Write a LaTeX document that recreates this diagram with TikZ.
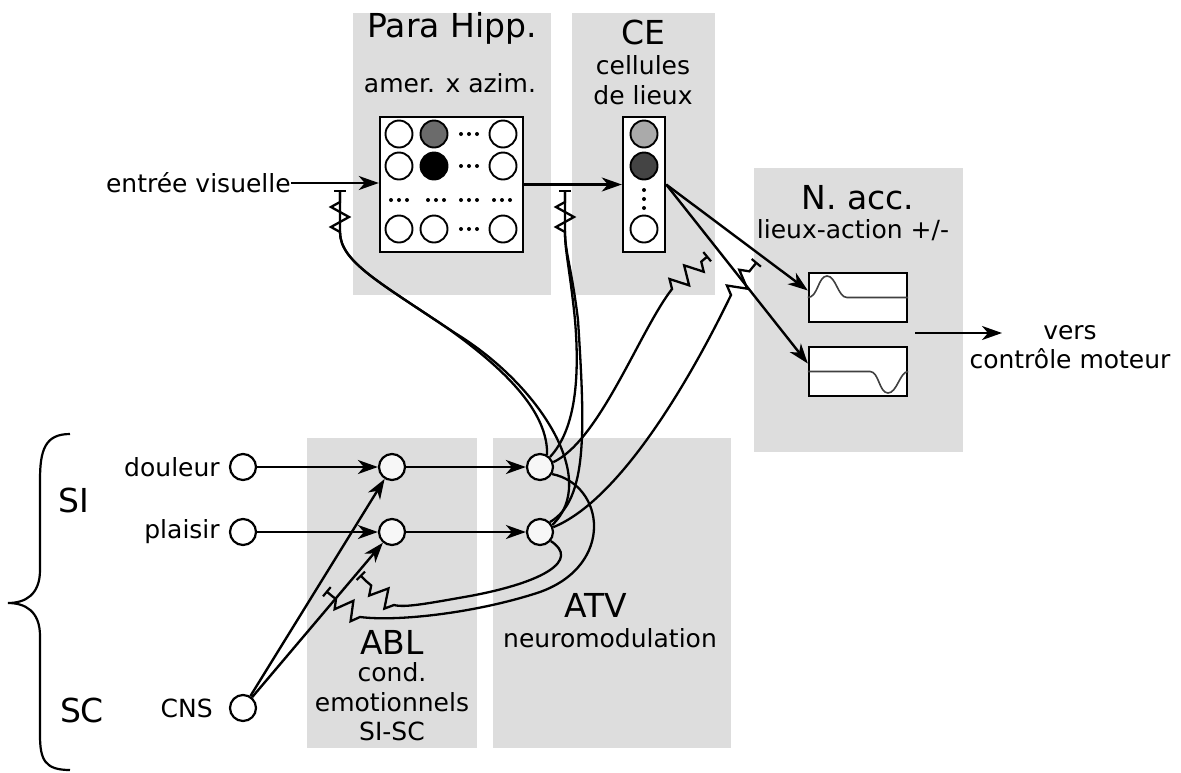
\documentclass[tikz,border=0pt]{standalone}
\usepackage{fontspec}
\setmainfont{DejaVu Sans}
\usepackage{tikz}
\usetikzlibrary{arrows.meta,positioning,decorations.pathmorphing}

\definecolor{zonegray}{HTML}{DDDDDD}
\definecolor{midgray}{HTML}{6B6B6B}
\definecolor{lightcell}{HTML}{AAAAAA}
\definecolor{darkcell}{HTML}{444444}

\begin{document}
\begin{tikzpicture}[x=1pt, y=-1pt,
    zone/.style={fill=zonegray, draw=none},
    neuron/.style={circle, draw, line width=2.2pt, minimum size=26pt, inner sep=0pt, fill=black!3},
    cell/.style={circle, draw, line width=1.9pt, minimum size=27pt, inner sep=0pt, fill=white},
    panel/.style={draw, line width=2.4pt, fill=white, inner sep=0pt},
    big/.style={font=\fontsize{33}{36}\selectfont, inner sep=0pt},
    small/.style={font=\fontsize{25}{29.5}\selectfont, inner sep=0pt, align=center},
    conn/.style={line width=2.4pt, -{Stealth[length=20pt,width=14pt,inset=6pt]}},
    inhib/.style={line width=2.3pt, -{Bar[width=12pt,line width=2.2pt]}},
    zz/.style={decoration={zigzag, segment length=20pt, amplitude=9pt}}]
    \useasboundingbox (0,0) rectangle (1181,772);

    % grey zones
    \fill[zone] (353,13) rectangle (551,295);
    \fill[zone] (572,13) rectangle (715,295);
    \fill[zone] (754,168) rectangle (963,452);
    \fill[zone] (307,438) rectangle (477,748);
    \fill[zone] (493,438) rectangle (731,748);

    % titles
    \node[big] (titlePH) at (452,28) {Para Hipp.};
    \node[small] (subPH) at (450,83) {amer. x azim.};
    \node[big] (titleCE) at (643,32) {CE};
    \node[small] (subCE) at (643,80) {cellules\\de lieux};
    \node[big] (titleNacc) at (858,198) {N. acc.};
    \node[small] (subNacc) at (853,230) {lieux-action +/-};
    \node[big] (titleABL) at (392,642) {ABL};
    \node[small] (subABL) at (392,702) {cond.\\emotionnels\\SI-SC};
    \node[big] (titleATV) at (596,605) {ATV};
    \node[small] (subATV) at (610,638) {neuromodulation};

    % Para Hipp. matrix
    \node[panel, minimum width=143pt, minimum height=135pt] (phbox) at (451.5,184.5) {};
    \node[cell] (m11) at (399,134) {};
    \node[cell, fill=midgray] (m12) at (434,134) {};
    \node[cell] (m14) at (503,134) {};
    \node[cell] (m21) at (399,166) {};
    \node[cell, fill=black] (m22) at (434,166) {};
    \node[cell] (m24) at (503,166) {};
    \node[cell] (m41) at (399,229) {};
    \node[cell] (m42) at (434,229) {};
    \node[cell] (m44) at (503,229) {};
    \foreach \y in {134,166,229}
        \foreach \dx in {-8,0,8}
            \fill (469+\dx,\y) circle (2pt);
    \foreach \x in {399,436,469,502}
        \foreach \dx in {-8,0,8}
            \fill (\x+\dx,200) circle (2pt);

    % CE column
    \node[panel, minimum width=42pt, minimum height=135pt] (cebox) at (644,184.5) {};
    \node[cell, fill=lightcell] (c1) at (644,134) {};
    \node[cell, fill=darkcell] (c2) at (644,166) {};
    \node[cell] (c4) at (644,229) {};
    \foreach \y in {190,199,208}
        \fill (644,\y) circle (2pt);

    % N. acc. panels
    \node[panel, minimum width=98pt, minimum height=49pt] (actPlus) at (858,297.5) {};
    \node[panel, minimum width=98pt, minimum height=49pt] (actMinus) at (858,371.5) {};
    \draw[line width=1.6pt, black!75] (actPlus.west) .. controls (818,297.5) and (818,276) .. (827,276)
        .. controls (836,276) and (838,297.5) .. (847,297.5) -- (actPlus.east);
    \draw[line width=1.6pt, black!75] (actMinus.west) -- (870,371.5) .. controls (879,371.5) and (879,393) .. (888,393)
        .. controls (897,393) and (900,371.5) .. (actMinus.east);

    % input and output
    \node[small, anchor=east] (entree) at (291,183) {entrée visuelle};
    \node[small] (motor) at (1070,347) {vers\\contrôle moteur};
    \coordinate (naccOut) at (915,333);
    \coordinate (motorIn) at (1002,333);

    % bottom neurons
    \node[neuron, fill=white] (srcD) at (243,467) {};
    \node[neuron, fill=white] (srcP) at (243,532) {};
    \node[neuron, fill=white] (srcC) at (243,708) {};
    \node[neuron] (ablD) at (392,467) {};
    \node[neuron] (ablP) at (392,532) {};
    \node[neuron] (atvD) at (540,467) {};
    \node[neuron] (atvP) at (540,532) {};
    \node[small, left=9pt of srcD] (lblD) {douleur};
    \node[small, left=9pt of srcP] (lblP) {plaisir};
    \node[small, left=16pt of srcC] (lblC) {CNS};
    \node[big] (lblSI) at (74,500) {SI};
    \node[big] (lblSC) at (82,710) {SC};

    % brace
    \draw[line width=2.2pt] (70,434) .. controls (45,434) and (40,450) .. (40,480) -- (40,570)
        .. controls (40,595) and (25,603) .. (8,603) .. controls (25,603) and (40,611) .. (40,636)
        -- (40,735) .. controls (40,760) and (45,770) .. (70,770);

    % inhibition end points
    \coordinate (tPH) at (340,190);
    \coordinate (tCE) at (565,190);
    \coordinate (tN1) at (708,256);
    \coordinate (tN2) at (757,262);
    \coordinate (tA1) at (326,591);
    \coordinate (tA2) at (360,575);

    % Arrows
    \draw[conn] (entree.east) -- (entree.east -| phbox.west);
    \draw[conn] (phbox.east) -- (cebox.west);
    \draw[conn] (cebox.east) -- ([yshift=7pt]actPlus.west);
    \draw[conn] (cebox.east) -- ([yshift=8pt]actMinus.west);
    \draw[conn] (naccOut) -- (motorIn);
    \draw[conn] (srcD) -- (ablD);
    \draw[conn] (srcP) -- (ablP);
    \draw[conn] (ablD) -- (atvD);
    \draw[conn] (ablP) -- (atvP);
    \draw[conn] (srcC) -- (ablD);
    \draw[conn] (srcC) -- (ablP);

    % neuromodulation
    \draw[inhib] (atvD.60) .. controls (548,420) and (520,380) .. (450,330)
        .. controls (380,282) and (340,262) .. (340,232) decorate[zz] {-- (340,198)} -- (tPH);
    \draw[inhib] (atvP.30) .. controls (600,480) and (540,385) .. (455,333)
        .. controls (382,284) and (340,262) .. (340,232) -- (340,231) -- (tPH);
    \draw[inhib] (atvD.45) .. controls (575,430) and (580,380) .. (575,320)
        .. controls (570,270) and (565,252) .. (565,232) decorate[zz] {-- (565,198)} -- (tCE);
    \draw[inhib] (atvP.45) .. controls (588,500) and (585,430) .. (578,320)
        .. controls (572,270) and (565,252) .. (565,232) -- (565,231) -- (tCE);
    \draw[inhib] (atvD.20) .. controls (600,440) and (640,330) .. (672,289)
        decorate[zz] {-- (702,261)} -- (tN1);
    \draw[inhib] (atvP.20) .. controls (620,500) and (690,380) .. (731,295)
        decorate[zz] {-- (752,268)} -- (tN2);
    \draw[inhib] (atvD.-30) .. controls (605,485) and (615,565) .. (540,592)
        .. controls (480,612) and (400,622) .. (360,617) decorate[zz] {-- (332,596)} -- (tA1);
    \draw[inhib] (atvP.-40) .. controls (580,560) and (545,582) .. (470,596)
        .. controls (430,603) and (405,608) .. (394,605) decorate[zz] {-- (366,581)} -- (tA2);
\end{tikzpicture}
\end{document}
